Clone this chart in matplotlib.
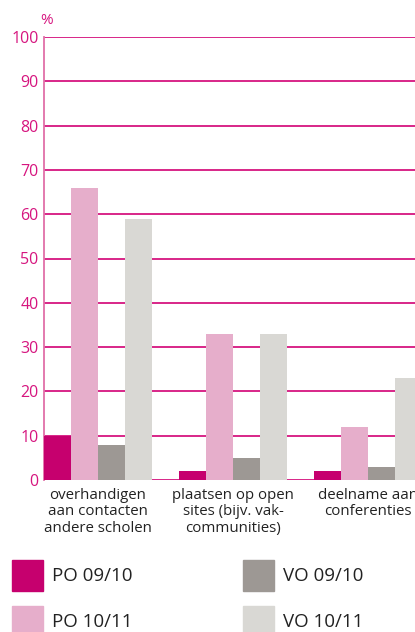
import numpy as np
import matplotlib.pyplot as plt
from matplotlib.patches import Rectangle

plt.rcParams['font.family'] = ['Open Sans', 'DejaVu Sans']

categories = ["overhandigen\naan contacten\nandere scholen",
              "plaatsen op open\nsites (bijv. vak-\ncommunities)",
              "deelname aan\nconferenties"]
series = ["PO 09/10", "PO 10/11", "VO 09/10", "VO 10/11"]
po_0910 = [10, 2, 2]
po_1011 = [66, 33, 12]
vo_0910 = [8, 5, 3]
vo_1011 = [59, 33, 23]
values = [po_0910, po_1011, vo_0910, vo_1011]
colors = ["#c6006e", "#e6aecb", "#9d9894", "#d9d8d4"]
yticks = list(range(0, 101, 10))

magenta = "#d6157f"

fig = plt.figure(figsize=(4.15, 6.32), dpi=100)
ax = fig.add_axes([44 / 415, 1 - 480 / 632, 1 - 44 / 415, (480 - 37) / 632])

# bar width 1, groups 5 apart (4 bars + 1 gap)
x = np.arange(len(categories)) * 5
for i, (name, vals, c) in enumerate(zip(series, values, colors)):
    ax.bar(x + i + 0.5, vals, width=1.0, color=c, zorder=3)

for t in yticks:
    ax.axhline(t, color=magenta, lw=1.3, zorder=1)

ax.set_ylim(0, 100)
ax.set_xlim(0, 13.74)
ax.set_yticks(yticks)
ax.set_xticks(x + 2)
ax.set_xticklabels(categories, fontsize=10.8, color="#222222", linespacing=1.1)
ax.tick_params(axis='y', length=0, pad=4, labelsize=11.5, labelcolor=magenta)
ax.tick_params(axis='x', length=0, pad=6)
for s in ["top", "right", "bottom"]:
    ax.spines[s].set_visible(False)
ax.spines["left"].set_color("#e070a8")
ax.spines["left"].set_linewidth(1.3)

fig.text(40 / 415, 1 - 20 / 632, "%", color=magenta, fontsize=11, ha="left", va="center")

# legend, two columns
for i, (name, c) in enumerate(zip(series, colors)):
    col, row = divmod(i, 2)
    x0 = [12, 243][col]
    y0 = [560, 606][row]
    fig.add_artist(Rectangle((x0 / 415, 1 - (y0 + 31) / 632), 31 / 415, 31 / 632,
                             transform=fig.transFigure, color=c))
    fig.text((x0 + 40) / 415, 1 - (y0 + 16) / 632, name, fontsize=13.5,
             color="#222222", ha="left", va="center")

fig.savefig("out.png", dpi=100)
